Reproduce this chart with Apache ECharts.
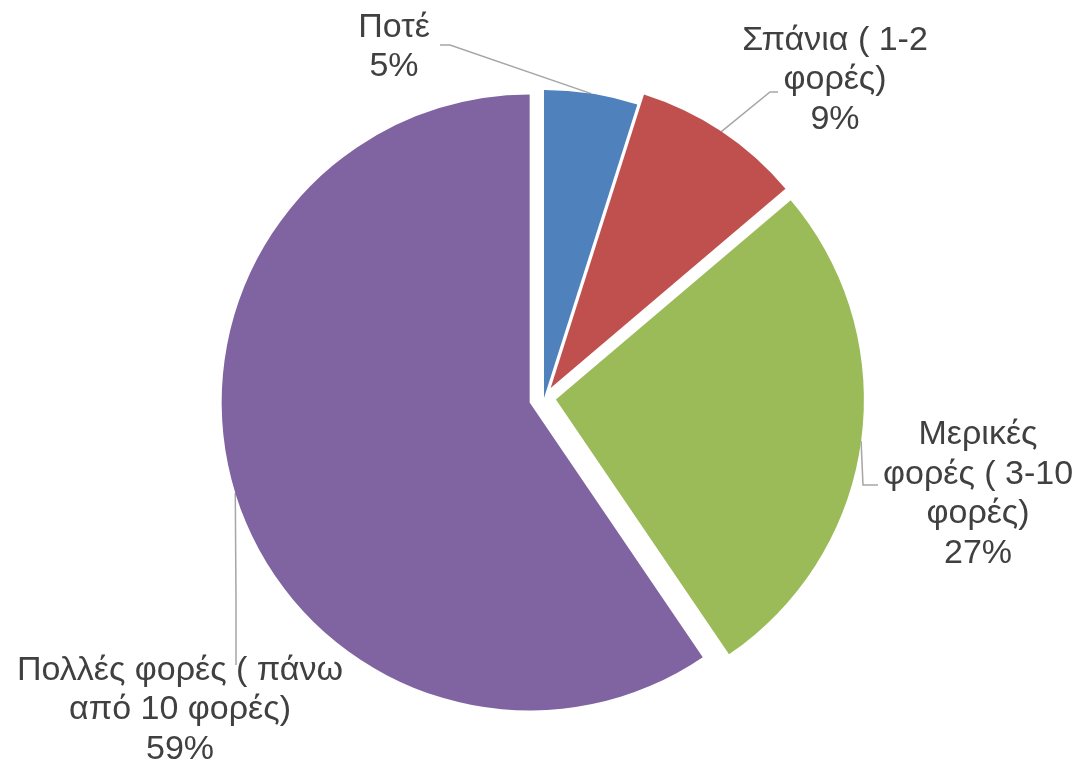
<!DOCTYPE html>
<html>
<head>
<meta charset="utf-8">
<script src="https://cdn.jsdelivr.net/npm/echarts@6/dist/echarts.min.js"></script>
<style>
	html, body { margin: 0; padding: 0; background: #fff; }
	#chart { width: 1080px; height: 765px; }
</style>
</head>
<body>
<div id="chart"></div>
<script>
const categories = ['Ποτέ', 'Σπάνια ( 1-2\nφορές)', 'Μερικές\nφορές ( 3-10\nφορές)', 'Πολλές φορές ( πάνω\nαπό 10 φορές)'];
// slice sizes (labels round them to 5 / 9 / 27 / 59 %)
const shares = [4.9, 8.9, 26.7, 59.5];
const colors = ['#4F81BD', '#C0504D', '#9BBB59', '#8064A2'];

// explosion of each slice (px), label block centres and leader line bends
const explode = [0, 12, 12, 15];
const labelSpots = [[394, 47], [835, 80], [978, 494], [180, 710]];
const leaderBends = [[450, 45, 440, 45], [770, 92, 778, 92], [863, 485, 878, 485], [236, 600, 236, 665]];
const baseCenter = [544, 398];
const radius = 308;

const total = shares.reduce((a, b) => a + b, 0);
let cum = 0;
const midAngles = shares.map((v) => {
	const mid = (cum + v / 2) / total * Math.PI * 2;
	cum += v;
	return mid;
});

const chart = echarts.init(document.getElementById('chart'), null, { renderer: 'canvas' });

// one pie per slice so every slice can be pulled out by its own amount
const series = shares.map((_, i) => {
	const a = midAngles[i];
	return {
		type: 'pie',
		silent: true,
		center: [baseCenter[0] + explode[i] * Math.sin(a), baseCenter[1] - explode[i] * Math.cos(a)],
		radius,
		startAngle: 90,
		clockwise: true,
		avoidLabelOverlap: false,
		percentPrecision: 0,
		data: categories.map((name, j) => ({
			name,
			value: shares[j],
			itemStyle: { color: j === i ? colors[j] : 'rgba(0,0,0,0)' },
			label: { show: j === i },
			labelLine: { show: j === i },
		})),
		label: {
			position: 'outside',
			formatter: '{b}\n{d}%',
			fontFamily: 'Liberation Sans, Arial, sans-serif',
			fontSize: 34,
			lineHeight: 39.5,
			color: '#404040',
			align: 'center',
			overflow: 'none',
		},
		labelLine: {
			length: 20,
			length2: 10,
			lineStyle: { color: '#A6A6A6', width: 1.5 },
		},
		labelLayout(params) {
			const p = labelSpots[params.dataIndex];
			const b = leaderBends[params.dataIndex];
			const out = { x: p[0], y: p[1], align: 'center', verticalAlign: 'middle', moveOverlap: false };
			if (params.labelLinePoints) {
				out.labelLinePoints = [params.labelLinePoints[0], [b[0], b[1]], [b[2], b[3]]];
			}
			return out;
		},
	};
});

chart.setOption({ animation: false, series });
</script>
</body>
</html>
